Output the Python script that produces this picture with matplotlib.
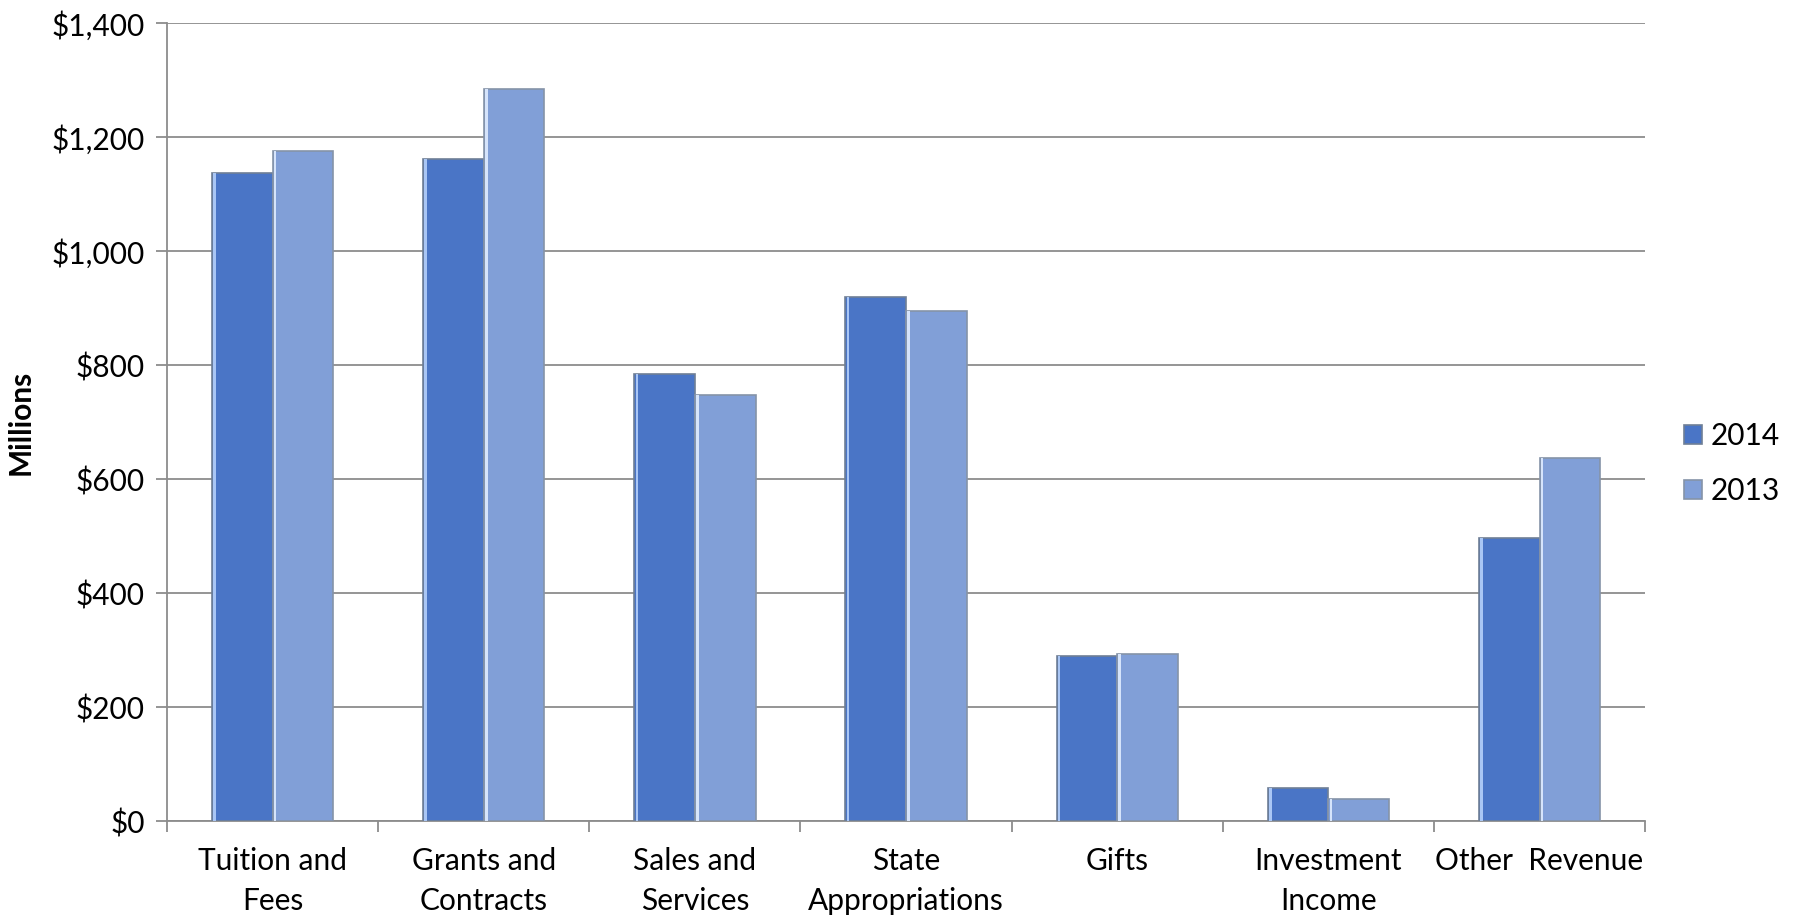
import matplotlib.pyplot as plt
import numpy as np

# Revenue by source, in millions of dollars
categories = ['Tuition and\nFees', 'Grants and\nContracts', 'Sales and\nServices',
              'State\nAppropriations', 'Gifts', 'Investment\nIncome', 'Other  Revenue']
rev_2014 = [1137, 1161, 784, 919, 289, 58, 497]
rev_2013 = [1175, 1284, 748, 895, 293, 38, 636]
yticks = [0, 200, 400, 600, 800, 1000, 1200, 1400]

plt.rcParams['font.family'] = ['Lato', 'DejaVu Sans']

fig = plt.figure(figsize=(17.94, 9.19), dpi=100)
ax = fig.add_axes([0.0931, 0.1066, 0.8239, 0.8684])

x = np.arange(len(categories))
w = 0.287
c14 = '#4a75c6'
c13 = '#819fd7'

ax.bar(x - w / 2, rev_2014, w, color=c14, edgecolor='#6f7f96', linewidth=1.2, zorder=3, label='2014')
ax.bar(x + w / 2, rev_2013, w, color=c13, edgecolor='#8593a8', linewidth=1.2, zorder=3, label='2013')

# bevel highlight on the left edge of each bar
hw = 0.012
ax.bar(x - w + hw / 2 + 0.006, rev_2014, hw, color='#a9c6f5', linewidth=0, zorder=4)
ax.bar(x + hw / 2 + 0.006, rev_2013, hw, color='#d6e4fb', linewidth=0, zorder=4)

ax.set_xlim(-0.5, len(categories) - 0.5)
ax.set_ylim(0, 1400)
ax.set_yticks(yticks)
ax.set_yticklabels(['${:,}'.format(v) for v in yticks])
ax.yaxis.grid(True, color='#8c8c8c', linewidth=1.3, zorder=0)

ax.set_xticks(x)
ax.set_xticklabels(categories, linespacing=1.5)
ax.set_xticks(np.arange(len(categories) + 1) - 0.5, minor=True)
ax.tick_params(axis='x', which='major', length=0, pad=19, labelsize=21.5)
ax.tick_params(axis='x', which='minor', length=8, width=1.3, color='#8c8c8c', direction='out')
ax.tick_params(axis='y', length=8, width=1.3, color='#8c8c8c', labelsize=21.5, pad=8)

for s in ['top', 'right']:
    ax.spines[s].set_visible(False)
for s in ['left', 'bottom']:
    ax.spines[s].set_color('#8c8c8c')
    ax.spines[s].set_linewidth(1.3)

ax.set_ylabel('Millions', fontsize=21.5, fontweight='bold', labelpad=12)

ax.legend(loc='center left', bbox_to_anchor=(1.0, 0.448), frameon=False, fontsize=21.5,
          handlelength=0.6, handleheight=0.6, handletextpad=0.3, labelspacing=0.9,
          borderaxespad=1.0, borderpad=0.3)

fig.savefig('out.png', dpi=100)
